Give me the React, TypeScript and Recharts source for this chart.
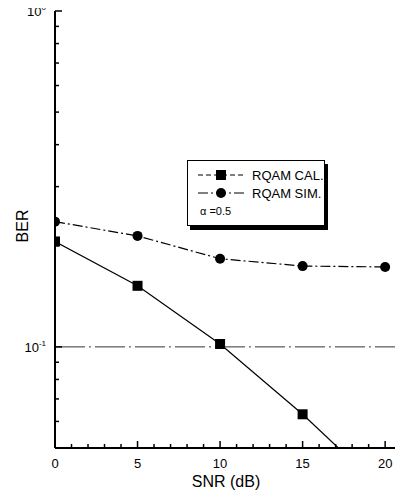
import { LineChart, Line, XAxis, YAxis, ReferenceLine, Legend } from 'recharts'

// SNR in dB and the bit error rates of the two curves
const snr = [0, 5, 10, 15, 20]
const berCal = [0.206, 0.152, 0.102, 0.063, 0.037]
const berSim = [0.236, 0.214, 0.183, 0.174, 0.173]

const xTicks = [0, 1, 2, 3, 4, 5, 6, 7, 8, 9, 10, 11, 12, 13, 14, 15, 16, 17, 18, 19, 20]
const xMajor = [0, 5, 10, 15, 20]
const yTicks = [0.05, 0.06, 0.07, 0.08, 0.09, 0.1, 0.2, 0.3, 0.4, 0.5, 0.6, 0.7, 0.8, 0.9, 1]
const yMajor = [0.1, 1]

const data = snr.map((s, i) => ({ snr: s, cal: berCal[i], sim: berSim[i] }))

const FONT = '"Liberation Sans", Arial, Helvetica, sans-serif'
const SIM_DASH = '10 3 2 3'

const isMajorY = (v: number) => yMajor.some((m) => Math.abs(m - v) < 1e-9)

function BottomTick({ x, y, payload }: any) {
  const major = xMajor.includes(payload.value)
  return (
    <g>
      <line x1={x} x2={x} y1={y} y2={y - (major ? 7 : 4)} stroke="#000" strokeWidth={1.5} />
      {major && (
        <text x={x} y={y + 20} textAnchor="middle" fontSize={13} fontFamily={FONT} fill="#000">
          {payload.value}
        </text>
      )}
    </g>
  )
}

function TopTick({ x, y, payload }: any) {
  const major = xMajor.includes(payload.value)
  return <line x1={x} x2={x} y1={y} y2={y + (major ? 7 : 4)} stroke="#000" strokeWidth={1.5} />
}

function LeftTick({ x, y, payload }: any) {
  const major = isMajorY(payload.value)
  const exp = Math.round(Math.log10(payload.value))
  return (
    <g>
      <line x1={x} x2={x + (major ? 7 : 4)} y1={y} y2={y} stroke="#000" strokeWidth={1.5} />
      {major && (
        <text x={x - 9} y={y + 5} textAnchor="end" fontSize={13} fontFamily={FONT} fill="#000">
          10
          <tspan dy={-6} fontSize={8}>
            {exp === 0 ? '0' : '-1'}
          </tspan>
        </text>
      )}
    </g>
  )
}

function RightTick({ x, y, payload }: any) {
  const major = isMajorY(payload.value)
  return <line x1={x} x2={x - (major ? 7 : 4)} y1={y} y2={y} stroke="#000" strokeWidth={1.5} />
}

function SquareDot({ cx, cy, index }: any) {
  if (cx == null || cy == null) return <g key={index} />
  return <rect key={index} x={cx - 5} y={cy - 5} width={10} height={10} fill="#000" />
}

function LegendBox() {
  const row = (dash: string, marker: 'square' | 'circle', label: string) => (
    <div style={{ display: 'flex', alignItems: 'center', height: 18 }}>
      <svg width={52} height={14} style={{ marginLeft: 8 }}>
        <line x1={2} x2={48} y1={7} y2={7} stroke="#000" strokeWidth={1.2} strokeDasharray={dash} />
        {marker === 'square' ? (
          <rect x={20} y={2} width={10} height={10} fill="#000" />
        ) : (
          <circle cx={25} cy={7} r={5} fill="#000" />
        )}
      </svg>
      <span style={{ marginLeft: 4, fontSize: 13 }}>{label}</span>
    </div>
  )
  return (
    <div
      style={{
        width: 138,
        height: 66,
        border: '1.5px solid #000',
        boxShadow: '3px 4px 0 #000',
        background: '#fff',
        fontFamily: FONT,
        color: '#000',
        boxSizing: 'border-box',
        paddingTop: 5,
      }}
    >
      {row('5 3', 'square', 'RQAM CAL.')}
      {row(SIM_DASH, 'circle', 'RQAM SIM.')}
      <div style={{ fontSize: 11, marginLeft: 12, marginTop: 3 }}>α =0.5</div>
    </div>
  )
}

export default function App() {
  // pull the chart over the body margin so it spans the whole page
  return (
    <div style={{ width: 403, height: 503, position: 'relative', margin: '-8px 0 0 -8px' }}>
      <LineChart width={403} height={503} data={data} margin={{ top: 11, right: 3, bottom: 25, left: 15 }}>
        <XAxis
          dataKey="snr"
          type="number"
          domain={[0, 20.9]}
          ticks={xTicks}
          interval={0}
          allowDataOverflow
          height={30}
          axisLine={{ stroke: '#000', strokeWidth: 2 }}
          tickLine={false}
          tickSize={0}
          tickMargin={0}
          tick={<BottomTick />}
          label={{
            content: () => (
              <text x={226} y={487} textAnchor="middle" fontSize={16} fontFamily={FONT} fill="#000">
                SNR (dB)
              </text>
            ),
          }}
        />
        <XAxis
          xAxisId="top"
          orientation="top"
          dataKey="snr"
          type="number"
          domain={[0, 20.9]}
          ticks={xTicks}
          interval={0}
          allowDataOverflow
          height={0}
          axisLine={{ stroke: '#000', strokeWidth: 2 }}
          tickLine={false}
          tickSize={0}
          tickMargin={0}
          tick={<TopTick />}
        />
        <YAxis
          scale="log"
          type="number"
          domain={[0.05, 1]}
          ticks={yTicks}
          interval={0}
          allowDataOverflow
          width={40}
          axisLine={{ stroke: '#000', strokeWidth: 2 }}
          tickLine={false}
          tickSize={0}
          tickMargin={0}
          tick={<LeftTick />}
          label={{
            content: () => (
              <text
                x={22}
                y={226}
                transform="rotate(-90 22 226)"
                textAnchor="middle"
                dominantBaseline="central"
                fontSize={16}
                fontFamily={FONT}
                fill="#000"
              >
                BER
              </text>
            ),
          }}
        />
        <YAxis
          yAxisId="right"
          orientation="right"
          scale="log"
          type="number"
          domain={[0.05, 1]}
          ticks={yTicks}
          interval={0}
          allowDataOverflow
          width={0}
          axisLine={{ stroke: '#000', strokeWidth: 2 }}
          tickLine={false}
          tickSize={0}
          tickMargin={0}
          tick={<RightTick />}
        />
        <ReferenceLine y={0.1} stroke="#333" strokeWidth={1} strokeDasharray="30 4 2 4" />
        <Line
          name="RQAM CAL."
          dataKey="cal"
          stroke="#000"
          strokeWidth={1.2}
          dot={<SquareDot />}
          isAnimationActive={false}
        />
        <Line
          name="RQAM SIM."
          dataKey="sim"
          stroke="#000"
          strokeWidth={1.2}
          strokeDasharray={SIM_DASH}
          dot={{ r: 5, fill: '#000', stroke: '#000', strokeWidth: 0 }}
          isAnimationActive={false}
        />
        <Legend
          verticalAlign="middle"
          align="center"
          wrapperStyle={{ position: 'absolute', left: 187, top: 160, width: 'auto' }}
          content={() => <LegendBox />}
        />
      </LineChart>
    </div>
  )
}
